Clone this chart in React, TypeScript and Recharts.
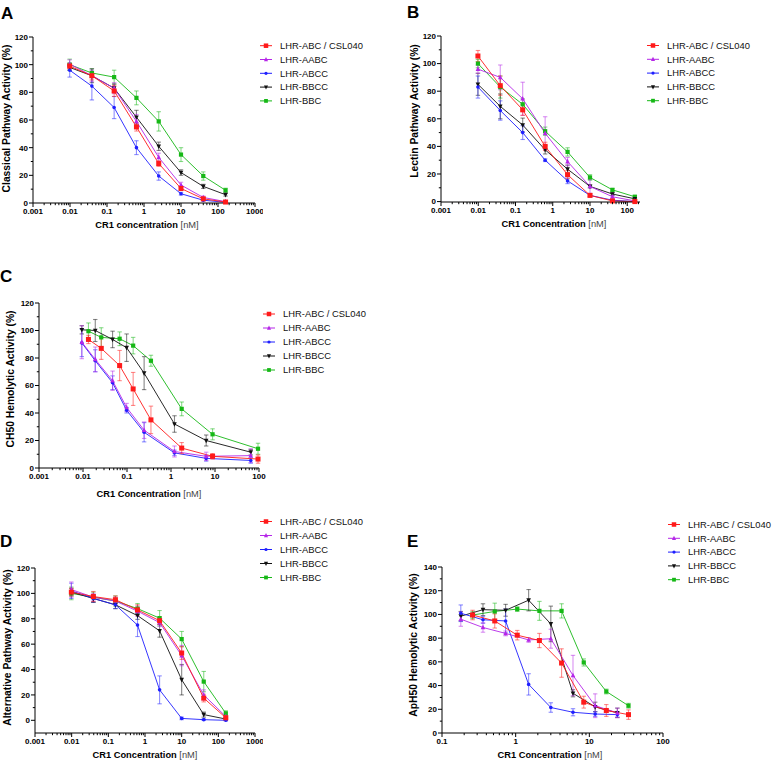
import React from 'react';
import { LineChart, Line, XAxis, YAxis, ErrorBar } from 'recharts';

const FONT = '"Liberation Sans", Arial, sans-serif';

const RED = '#ff1a1a';
const PURPLE = '#b526e8';
const BLUE = '#1f1fff';
const BLACK = '#111111';
const GREEN = '#16b816';

const seriesNames = ['LHR-ABC / CSL040', 'LHR-AABC', 'LHR-ABCC', 'LHR-BBCC', 'LHR-BBC'];

// A - classical pathway
const doseA = [0.0098, 0.039, 0.156, 0.625, 2.5, 10, 40, 160];
const cpRed = [99, 92, 81, 55, 28.5, 10.5, 3, 0.7];
const cpRedSd = [2, 3, 4, 3, 2, 1.5, 1, 0.5];
const cpPurple = [100.5, 92, 83, 59, 33, 13, 4, 1];
const cpPurpleSd = [3, 4, 4, 5, 3, 2, 1, 0.5];
const cpBlue = [96, 84.5, 69, 40, 19.5, 6.7, 2, 0.5];
const cpBlueSd = [5, 10, 8, 5, 3, 1, 0.5, 0.5];
const cpBlack = [98, 92, 83, 62, 41, 22, 12, 6];
const cpBlackSd = [2, 5, 3, 5, 3, 2, 1.5, 1];
const cpGreen = [100, 94, 91, 76, 59, 35, 19.5, 9.2];
const cpGreenSd = [4, 3, 5, 5, 7, 5, 3, 1.5];

// B - lectin pathway
const lpRed = [105.5, 84, 66.5, 40, 19.5, 4.5, 0.5, 0];
const lpRedSd = [4, 7, 4, 3, 3, 1, 0.5, 0.3];
const lpPurple = [96, 90, 74.5, 49.5, 29, 11, 3.5, 0.5];
const lpPurpleSd = [3, 9, 12, 12, 3, 5, 1, 0.5];
const lpBlue = [83, 66, 50, 30, 15, 4.5, 1, 0];
const lpBlueSd = [8, 7, 5, 1, 2, 1, 0.5, 0.3];
const lpBlack = [85, 69, 55.5, 37.5, 23.5, 11, 5.5, 2];
const lpBlackSd = [8, 9, 5, 3, 3, 1, 1, 0.5];
const lpGreen = [100, 83, 70.5, 51, 36, 17.5, 8.5, 3.5];
const lpGreenSd = [3, 8, 4, 3, 3, 2, 1, 1];

// C - CH50
const doseC1 = [0.0094, 0.019, 0.047, 0.098, 0.245, 1.2, 6.3, 65];
const doseC2 = [0.0133, 0.026, 0.068, 0.138, 0.35, 1.75, 8.8, 95];
const chRed = [93.5, 87, 74.5, 57.5, 35, 14.5, 8.5, 6.5];
const chRedSd = [3, 8, 11, 12, 10, 4, 2, 3];
const chPurple = [91.5, 79, 63.5, 44, 27.5, 12, 8.5, 9];
const chPurpleSd = [12, 9, 7, 3, 6, 4, 3, 5];
const chBlue = [91, 78, 62, 42, 26, 11, 7, 5.5];
const chBlueSd = [10, 8, 5, 2, 7, 2, 2, 2];
const chBlack = [100.5, 100, 93.5, 87.5, 69, 32, 20, 11.5];
const chBlackSd = [3, 8, 6, 10, 12, 6, 4, 2];
const chGreen = [99.5, 95, 94, 89, 78, 43, 24.5, 14];
const chGreenSd = [6, 7, 5, 6, 4, 5, 4, 4];

// D - alternative pathway
const apRed = [101, 97.5, 95, 87, 78.5, 53, 17.5, 2];
const apRedSd = [3, 4, 3, 4, 3, 5, 3, 1.5];
const apPurple = [103, 97, 94, 86, 77, 51, 20, 3];
const apPurpleSd = [6, 3, 3, 4, 3, 8, 4, 1];
const apBlue = [102, 96, 91, 75, 24, 1.5, 0.5, 0];
const apBlueSd = [6, 3, 3, 9, 11, 1, 0.5, 0.5];
const apBlack = [101, 96, 91, 82.5, 70.5, 32, 4.5, 1];
const apBlackSd = [3, 3, 3, 3, 5, 12, 2, 1];
const apGreen = [100, 97, 94, 88, 80.5, 64, 30.5, 5.5];
const apGreenSd = [5, 4, 4, 4, 6, 6, 8, 2];

// E - ApH50
const doseE1 = [0.18, 0.36, 0.73, 1.5, 3, 6, 12, 24];
const doseE2 = [0.26, 0.52, 1.05, 2.1, 4.2, 8.4, 17, 34];
const ahRed = [99.5, 94.5, 82.5, 78, 59, 26, 19, 15.5];
const ahRedSd = [4, 6, 4, 6, 12, 5, 5, 4];
const ahPurple = [96, 89, 84, 78.5, 79.5, 48.5, 23, 17];
const ahPurpleSd = [6, 4, 2, 2, 8, 17, 10, 4];
const ahBlue = [101, 95.5, 94.5, 41, 21.5, 17.5, 16, 15.5];
const ahBlueSd = [7, 3, 10, 9, 4, 3, 2, 2];
const ahBlack = [98.5, 104, 103.5, 112, 92, 33.5, 22, 17];
const ahBlackSd = [4, 5, 5, 9, 15, 3, 4, 4];
const ahGreen = [99.5, 102.5, 104.5, 103, 103, 59.5, 35, 23];
const ahGreenSd = [3, 7, 2, 8, 6, 3, 2, 2];

// axis ticks
const decades3 = [0.001, 0.01, 0.1, 1, 10, 100, 1000];
const decades2 = [0.001, 0.01, 0.1, 1, 10, 100];
const decadesE = [0.1, 1, 10, 100];
const yTicks120 = [0, 20, 40, 60, 80, 100, 120];
const yTicks140 = [0, 20, 40, 60, 80, 100, 120, 140];

const pts = (xs: number[], ys: number[], es: number[]) => xs.map((x, i) => ({ x, y: ys[i], e: es[i] }));

const withMinor = (majors: number[], hi: number) => {
  const out: number[] = [];
  majors.forEach((d) => {
    for (let m = 1; m <= 9; m++) {
      const v = Number((m * d).toPrecision(6));
      if (v <= hi + 1e-9) out.push(v);
    }
  });
  return out;
};
const linMinor = (majors: number[]) => {
  const out: number[] = [];
  majors.forEach((v, i) => {
    out.push(v);
    if (i < majors.length - 1) out.push(v + (majors[i + 1] - v) / 2);
  });
  return out;
};

const isDecade = (v: number) => Math.abs(Math.log10(v) - Math.round(Math.log10(v))) < 1e-6;

function Marker({ shape, cx, cy, color, s }: any) {
  if (shape === 'square') return <rect x={cx - s / 2} y={cy - s / 2} width={s} height={s} fill={color} />;
  if (shape === 'up')
    return <polygon points={`${cx},${cy - s * 0.6} ${cx - s / 2},${cy + s * 0.4} ${cx + s / 2},${cy + s * 0.4}`} fill={color} />;
  if (shape === 'down')
    return <polygon points={`${cx},${cy + s * 0.6} ${cx - s / 2},${cy - s * 0.4} ${cx + s / 2},${cy - s * 0.4}`} fill={color} />;
  return <circle cx={cx} cy={cy} r={s / 2} fill={color} />;
}

const styles = {
  red: { color: RED, shape: 'square', s: 5 },
  purple: { color: PURPLE, shape: 'up', s: 4.6 },
  blue: { color: BLUE, shape: 'circle', s: 3.6 },
  black: { color: BLACK, shape: 'down', s: 4.6 },
  green: { color: GREEN, shape: 'square', s: 4.2 },
};
const legendOrder = ['red', 'purple', 'blue', 'black', 'green'];

const XTick = (props: any) => {
  const { x, y, payload } = props;
  const v = payload.value;
  const major = isDecade(v);
  return (
    <g>
      <line x1={x} x2={x} y1={y} y2={y + (major ? 4 : 2.2)} stroke="#000" strokeWidth={1} />
      {major && (
        <text x={x} y={y + 11.2} textAnchor="middle" fontSize={8} fontWeight="bold" fontFamily={FONT} fill="#000">
          {String(v)}
        </text>
      )}
    </g>
  );
};

const YTick = (props: any) => {
  const { x, y, payload } = props;
  const v = payload.value;
  const major = v % 20 === 0;
  return (
    <g>
      <line x1={x - (major ? 4 : 2.2)} x2={x} y1={y} y2={y} stroke="#000" strokeWidth={1} />
      {major && (
        <text x={x - 5} y={y} dy="0.36em" textAnchor="end" fontSize={8} fontWeight="bold" fontFamily={FONT} fill="#000">
          {v}
        </text>
      )}
    </g>
  );
};

function Panel({ box, xDomain, xTicks, yDomain, yTicks, series }: any) {
  const YW = 40, MT = 8, MR = 8, XH = 24;
  const width = Math.round(box.right - box.left) + YW + MR;
  const height = Math.round(box.bottom - box.top) + MT + XH;
  return (
    <div style={{ position: 'absolute', left: box.left - YW, top: box.top - MT }}>
      <LineChart width={width} height={height} margin={{ top: MT, right: MR, left: 0, bottom: 0 }}>
        <XAxis
          type="number"
          dataKey="x"
          scale="log"
          domain={xDomain}
          ticks={xTicks}
          interval={0}
          height={XH}
          tickSize={0}
          tickMargin={0}
          tickLine={false}
          axisLine={{ stroke: '#000', strokeWidth: 1 }}
          tick={<XTick />}
        />
        <YAxis
          type="number"
          domain={yDomain}
          ticks={yTicks}
          interval={0}
          width={YW}
          tickSize={0}
          tickMargin={0}
          tickLine={false}
          axisLine={{ stroke: '#000', strokeWidth: 1 }}
          tick={<YTick />}
        />
        {series.map((s: any) => {
          const st = (styles as any)[s.key];
          return (
            <Line
              key={s.key}
              data={s.data}
              dataKey="y"
              type="linear"
              stroke={st.color}
              strokeWidth={0.9}
              isAnimationActive={false}
              activeDot={false}
              dot={(p: any) => <Marker key={`${s.key}-${p.index}`} shape={st.shape} cx={p.cx} cy={p.cy} color={st.color} s={st.s} />}
            >
              <ErrorBar dataKey="e" direction="y" width={2.2} stroke={st.color} strokeOpacity={0.5} strokeWidth={1.1} />
            </Line>
          );
        })}
      </LineChart>
    </div>
  );
}

function LegendBlock({ x, y, step }: any) {
  return (
    <g>
      {legendOrder.map((k, i) => {
        const st = (styles as any)[k];
        const cy = y + i * step;
        return (
          <g key={k}>
            <line x1={x} x2={x + 12} y1={cy} y2={cy} stroke={st.color} strokeWidth={1} />
            <Marker shape={st.shape} cx={x + 6} cy={cy} color={st.color} s={st.s * 0.9} />
            <text x={x + 20} y={cy} dy="0.36em" fontSize={9.4} fontFamily={FONT} fill="#111">
              {seriesNames[i]}
            </text>
          </g>
        );
      })}
    </g>
  );
}

function XTitle({ x, y, first }: any) {
  return (
    <text x={x} y={y} textAnchor="middle" fontSize={9.3} fontFamily={FONT} fill="#000">
      <tspan fontWeight="bold">{first} </tspan>
      <tspan fill="#444">[nM]</tspan>
    </text>
  );
}

function YTitle({ x, y, label }: any) {
  return (
    <text transform={`translate(${x},${y}) rotate(-90)`} textAnchor="middle" dy="0.35em" fontSize={10.3} fontWeight="bold" fontFamily={FONT} fill="#000">
      {label}
    </text>
  );
}

const order = (red: any, purple: any, blue: any, black: any, green: any) => [
  { key: 'green', data: green },
  { key: 'black', data: black },
  { key: 'blue', data: blue },
  { key: 'purple', data: purple },
  { key: 'red', data: red },
];

export default function App() {
  const seriesA = order(
    pts(doseA, cpRed, cpRedSd), pts(doseA, cpPurple, cpPurpleSd), pts(doseA, cpBlue, cpBlueSd),
    pts(doseA, cpBlack, cpBlackSd), pts(doseA, cpGreen, cpGreenSd));
  const seriesB = order(
    pts(doseA, lpRed, lpRedSd), pts(doseA, lpPurple, lpPurpleSd), pts(doseA, lpBlue, lpBlueSd),
    pts(doseA, lpBlack, lpBlackSd), pts(doseA, lpGreen, lpGreenSd));
  const seriesC = order(
    pts(doseC2, chRed, chRedSd), pts(doseC1, chPurple, chPurpleSd), pts(doseC1, chBlue, chBlueSd),
    pts(doseC1, chBlack, chBlackSd), pts(doseC2, chGreen, chGreenSd));
  const seriesD = order(
    pts(doseA, apRed, apRedSd), pts(doseA, apPurple, apPurpleSd), pts(doseA, apBlue, apBlueSd),
    pts(doseA, apBlack, apBlackSd), pts(doseA, apGreen, apGreenSd));
  const seriesE = order(
    pts(doseE2, ahRed, ahRedSd), pts(doseE1, ahPurple, ahPurpleSd), pts(doseE1, ahBlue, ahBlueSd),
    pts(doseE1, ahBlack, ahBlackSd), pts(doseE2, ahGreen, ahGreenSd));

  return (
    <div style={{ position: 'absolute', left: 0, top: 0, width: 775, height: 766, background: '#fff', overflow: 'hidden' }}>
      <Panel box={{ left: 33, right: 255, top: 36.7, bottom: 202.7 }} xDomain={[0.001, 1000]}
        xTicks={withMinor(decades3, 1000)} yDomain={[0, 120]} yTicks={linMinor(yTicks120)} series={seriesA} />
      <Panel box={{ left: 441, right: 640, top: 35.7, bottom: 202 }} xDomain={[0.001, 220]}
        xTicks={withMinor(decades2, 220)} yDomain={[0, 120]} yTicks={linMinor(yTicks120)} series={seriesB} />
      <Panel box={{ left: 39, right: 259, top: 302.7, bottom: 468 }} xDomain={[0.001, 100]}
        xTicks={withMinor(decades2, 100)} yDomain={[0, 120]} yTicks={linMinor(yTicks120)} series={seriesC} />
      <Panel box={{ left: 35, right: 255, top: 568.3, bottom: 733.3 }} xDomain={[0.001, 1000]}
        xTicks={withMinor(decades3, 1000)} yDomain={[-10, 120]} yTicks={linMinor(yTicks120)} series={seriesD} />
      <Panel box={{ left: 442, right: 663, top: 567.3, bottom: 733.3 }} xDomain={[0.1, 100]}
        xTicks={withMinor(decadesE, 100)} yDomain={[0, 140]} yTicks={linMinor(yTicks140)} series={seriesE} />

      <svg width={775} height={766} style={{ position: 'absolute', left: 0, top: 0, pointerEvents: 'none' }}>
        <g fontFamily={FONT} fontWeight="bold" fontSize={17} fill="#000">
          <text x={1} y={18.5}>A</text>
          <text x={407} y={17.5}>B</text>
          <text x={0} y={282}>C</text>
          <text x={0} y={547}>D</text>
          <text x={407} y={547}>E</text>
        </g>
        <YTitle x={6.5} y={118.5} label="Classical Pathway Activity (%)" />
        <YTitle x={414.5} y={111} label="Lectin Pathway Activity (%)" />
        <YTitle x={10.5} y={379} label="CH50 Hemolytic Activity (%)" />
        <YTitle x={7} y={647.5} label="Alternative Pathway Activity (%)" />
        <YTitle x={413} y={645} label="ApH50 Hemolytic Activity (%)" />
        <XTitle x={147} y={228} first="CR1 concentration" />
        <XTitle x={554} y={226.5} first="CR1 Concentration" />
        <XTitle x={149} y={497} first="CR1 Concentration" />
        <XTitle x={145} y={758} first="CR1 Concentration" />
        <XTitle x={550} y={758} first="CR1 Concentration" />
        <LegendBlock x={260} y={45.7} step={13.8} />
        <LegendBlock x={647} y={45.5} step={13.8} />
        <LegendBlock x={263} y={314} step={14} />
        <LegendBlock x={260} y={521.5} step={14} />
        <LegendBlock x={668} y={524.5} step={13.8} />
      </svg>
    </div>
  );
}
